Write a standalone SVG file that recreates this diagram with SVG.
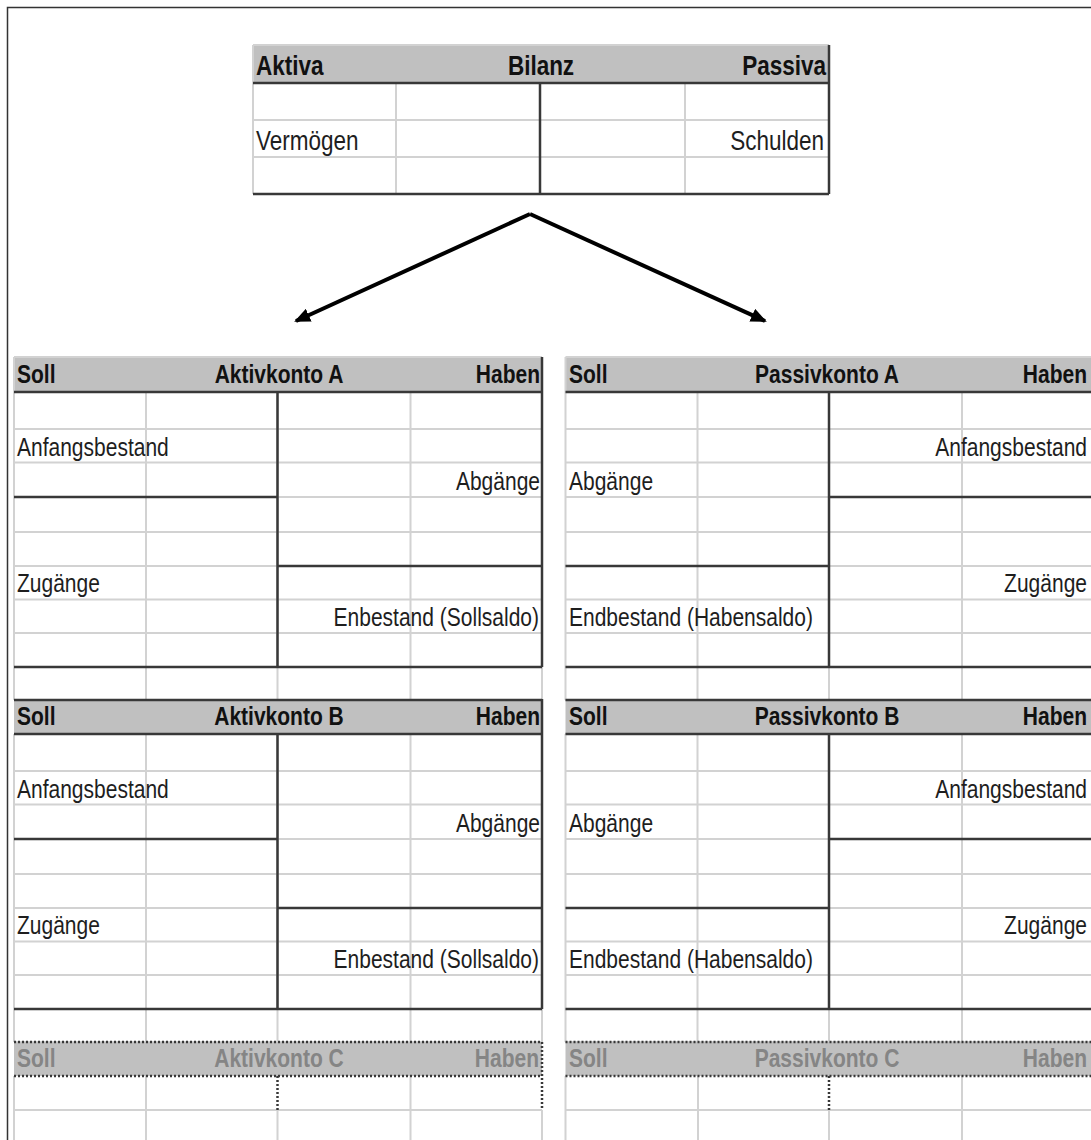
<svg xmlns="http://www.w3.org/2000/svg" xmlns:xlink="http://www.w3.org/1999/xlink" width="1091" height="1140" viewBox="0 0 1091 1140">
<style>
.lg{stroke:#d2d2d2;stroke-width:2;fill:none}
.dk{stroke:#383838;stroke-width:2.5;fill:none}
.dot{stroke:#383838;stroke-width:2.5;stroke-dasharray:2 2;fill:none}
.hd{fill:#c0c0c0}
.t{font-family:"Liberation Sans",Arial,sans-serif;font-size:21px;fill:#1e1e1e}
.b{font-family:"Liberation Sans",Arial,sans-serif;font-size:21px;font-weight:bold;fill:#111}
.g{fill:#858585}
.tt{font-size:22.5px}
.e{text-anchor:end}
.m{text-anchor:middle}
</style>
<defs>
<g id="gridL">
<path class="lg" d="M14,429H542M14,462.5H542M14,497H542M14,532H542M14,566H542M14,599.5H542M14,633H542M14,667H542M14,700H542"/>
<path class="lg" d="M14,392V700M146,392V700M277.5,392V700M410.5,392V700M542,392V700"/>
</g>
<marker id="ah" viewBox="0 0 16 14" refX="14" refY="7" markerWidth="16" markerHeight="14" markerUnits="userSpaceOnUse" orient="auto">
<path d="M0,0L16,7L0,14Z" fill="#000"/>
</marker>
</defs>
<rect width="1091" height="1140" fill="#fff"/>
<g id="frame">
<path d="M7.5,1140V7.5H1091" stroke="#333" stroke-width="1.5" fill="none"/>
</g>

<g id="bilanz">
<rect class="hd" x="253" y="45" width="576" height="38"/>
<path class="lg" d="M253,45H829M253,120H829M253,157H829M253,45V194M396,83V194M685,83V194"/>
<path class="dk" d="M253,83H829M540,83V194M253,194H829M829,45V194"/>
<text class="b tt" transform="translate(256,75) scale(1,1.19)">Aktiva</text>
<text class="b tt m" transform="translate(541,75) scale(1,1.19)">Bilanz</text>
<text class="b tt e" transform="translate(826,75) scale(1,1.19)">Passiva</text>
<text class="t tt" transform="translate(256,150) scale(1,1.19)">Vermögen</text>
<text class="t tt e" transform="translate(824,150) scale(1,1.19)">Schulden</text>
</g>

<g id="connectors">
<path d="M530,214L296,321" stroke="#000" stroke-width="4" fill="none" marker-end="url(#ah)"/>
<path d="M530,214L765,321" stroke="#000" stroke-width="4" fill="none" marker-end="url(#ah)"/>
</g>

<g id="aktivkonto-a">
<rect class="hd" x="14" y="357" width="528" height="35"/>
<path class="lg" d="M14,357H542M14,357V392"/>
<use xlink:href="#gridL" href="#gridL"/>
<path class="dk" d="M14,392H542M542,357V667M277.5,392V667M14,497H277.5M277.5,566H542M14,667H542"/>
<text class="b" transform="translate(17,383) scale(1,1.19)">Soll</text>
<text class="b m" transform="translate(279,383) scale(1,1.19)">Aktivkonto A</text>
<text class="b e" transform="translate(540,383) scale(1,1.19)">Haben</text>
<text class="t" transform="translate(17,456) scale(1,1.19)">Anfangsbestand</text>
<text class="t e" transform="translate(540,490) scale(1,1.19)">Abgänge</text>
<text class="t" transform="translate(17,592) scale(1,1.19)">Zugänge</text>
<text class="t e" transform="translate(539,626) scale(1,1.19)">Enbestand (Sollsaldo)</text>
</g>

<g id="aktivkonto-b">
<rect class="hd" x="14" y="699" width="528" height="35"/>
<use xlink:href="#gridL" href="#gridL" y="342"/>
<path class="dk" d="M14,700H542M14,734H542M542,699V1009M277.5,734V1009M14,839H277.5M277.5,908H542M14,1009H542"/>
<text class="b" transform="translate(17,725) scale(1,1.19)">Soll</text>
<text class="b m" transform="translate(279,725) scale(1,1.19)">Aktivkonto B</text>
<text class="b e" transform="translate(540,725) scale(1,1.19)">Haben</text>
<text class="t" transform="translate(17,798) scale(1,1.19)">Anfangsbestand</text>
<text class="t e" transform="translate(540,832) scale(1,1.19)">Abgänge</text>
<text class="t" transform="translate(17,934) scale(1,1.19)">Zugänge</text>
<text class="t e" transform="translate(539,968) scale(1,1.19)">Enbestand (Sollsaldo)</text>
</g>

<g id="aktivkonto-c">
<rect class="hd" x="14" y="1042" width="528" height="34"/>
<path class="lg" d="M14,1110H542M14,1076V1140M146,1076V1140M277.5,1110V1140M410.5,1076V1140M542,1110V1140"/>
<path class="dot" d="M14,1042H542M14,1076H542M542,1042V1110M277.5,1076V1110"/>
<text class="b g" transform="translate(17,1067) scale(1,1.19)">Soll</text>
<text class="b g m" transform="translate(279,1067) scale(1,1.19)">Aktivkonto C</text>
<text class="b g e" transform="translate(539,1067) scale(1,1.19)">Haben</text>
</g>

<g id="passivkonto-a">
<rect class="hd" x="565.5" y="357" width="527" height="35"/>
<path class="lg" d="M565.5,357H1092M565.5,357V392"/>
<use xlink:href="#gridL" href="#gridL" x="551.5"/>
<path class="dk" d="M565.5,392H1092M829,392V667M829,497H1092M565.5,566H829M565.5,667H1092"/>
<text class="b" transform="translate(569,383) scale(1,1.19)">Soll</text>
<text class="b m" transform="translate(827,383) scale(1,1.19)">Passivkonto A</text>
<text class="b e" transform="translate(1087,383) scale(1,1.19)">Haben</text>
<text class="t e" transform="translate(1087,456) scale(1,1.19)">Anfangsbestand</text>
<text class="t" transform="translate(569,490) scale(1,1.19)">Abgänge</text>
<text class="t e" transform="translate(1087,592) scale(1,1.19)">Zugänge</text>
<text class="t" transform="translate(569,626) scale(1,1.19)">Endbestand (Habensaldo)</text>
</g>

<g id="passivkonto-b">
<rect class="hd" x="565.5" y="699" width="527" height="35"/>
<use xlink:href="#gridL" href="#gridL" x="551.5" y="342"/>
<path class="dk" d="M565.5,700H1092M565.5,734H1092M829,734V1009M829,839H1092M565.5,908H829M565.5,1009H1092"/>
<text class="b" transform="translate(569,725) scale(1,1.19)">Soll</text>
<text class="b m" transform="translate(827,725) scale(1,1.19)">Passivkonto B</text>
<text class="b e" transform="translate(1087,725) scale(1,1.19)">Haben</text>
<text class="t e" transform="translate(1087,798) scale(1,1.19)">Anfangsbestand</text>
<text class="t" transform="translate(569,832) scale(1,1.19)">Abgänge</text>
<text class="t e" transform="translate(1087,934) scale(1,1.19)">Zugänge</text>
<text class="t" transform="translate(569,968) scale(1,1.19)">Endbestand (Habensaldo)</text>
</g>

<g id="passivkonto-c">
<rect class="hd" x="565.5" y="1042" width="527" height="34"/>
<path class="lg" d="M565.5,1110H1092M565.5,1076V1140M698,1076V1140M829,1110V1140M962,1076V1140"/>
<path class="dot" d="M565.5,1042H1092M565.5,1076H1092M829,1076V1110"/>
<text class="b g" transform="translate(569,1067) scale(1,1.19)">Soll</text>
<text class="b g m" transform="translate(827,1067) scale(1,1.19)">Passivkonto C</text>
<text class="b g e" transform="translate(1087,1067) scale(1,1.19)">Haben</text>
</g>
</svg>
